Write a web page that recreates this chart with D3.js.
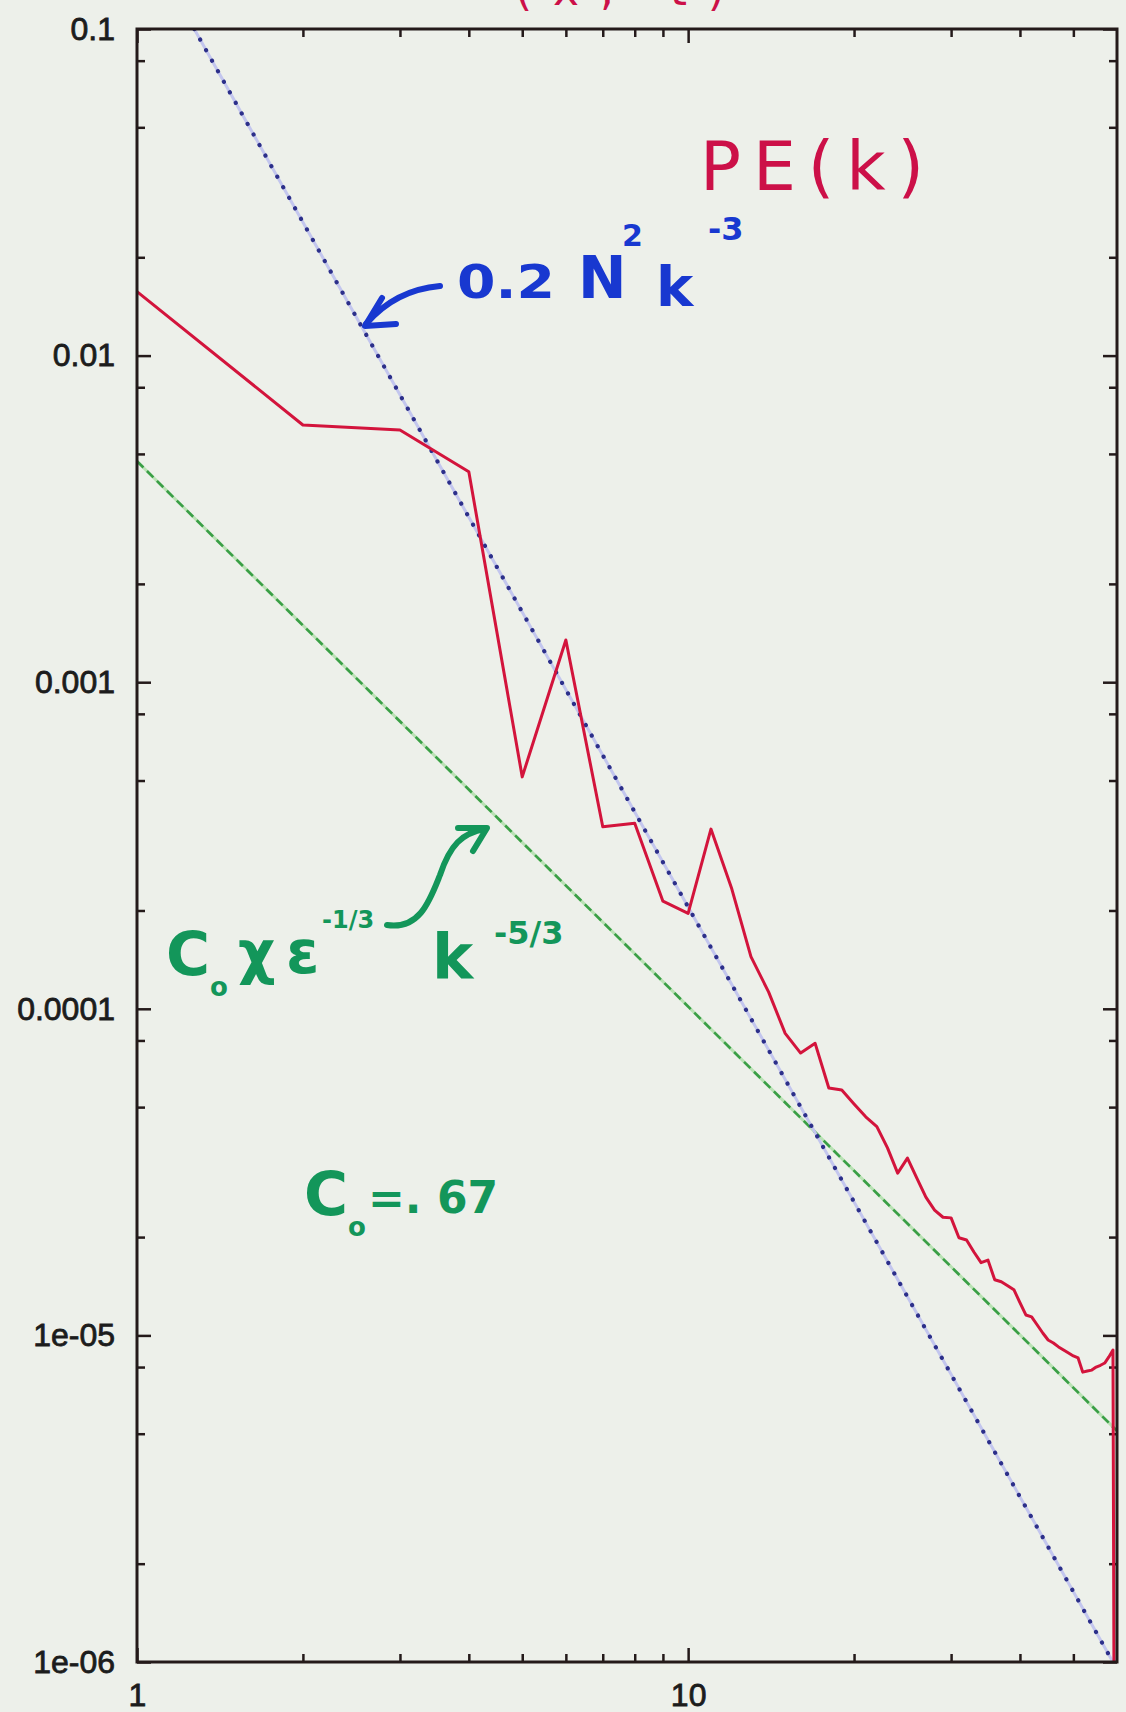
<!DOCTYPE html>
<html>
<head>
<meta charset="utf-8">
<script src="https://cdn.jsdelivr.net/npm/d3@7/dist/d3.min.js"></script>
<style>
  html, body { margin: 0; padding: 0; background: #edf0ea; }
  svg { display: block; }
</style>
</head>
<body>
<svg id="chart" width="1126" height="1712"></svg>
<script>
// wavenumber k and the PE(k) spectrum
const kValues = [1, 2, 3, 4, 5, 6, 7, 8, 9, 10,
  11, 12, 13, 14, 15, 16, 17, 18, 19, 20,
  21, 22, 23, 24, 25, 26, 27, 28, 29, 30,
  31, 32, 33, 34, 35, 36, 37, 38, 39, 40,
  41, 42, 43, 44, 45, 46, 47, 48, 49, 50,
  51, 52, 53, 54, 55, 56, 57, 58, 59, 60];
const peValues = [0.0157, 0.00613, 0.00592, 0.00441, 0.000513, 0.001346, 0.000361, 0.00037, 0.0002135, 0.000196,
  0.000355, 0.000233, 0.0001444, 0.0001125, 8.41e-5, 7.32e-5, 7.84e-5, 5.72e-5, 5.64e-5, 5.11e-5,
  4.67e-5, 4.36e-5, 3.75e-5, 3.14e-5, 3.49e-5, 3.03e-5, 2.65e-5, 2.42e-5, 2.30e-5, 2.29e-5,
  1.99e-5, 1.96e-5, 1.80e-5, 1.67e-5, 1.70e-5, 1.48e-5, 1.46e-5, 1.42e-5, 1.38e-5, 1.26e-5,
  1.155e-5, 1.14e-5, 1.076e-5, 1.017e-5, 9.68e-6, 9.48e-6, 9.22e-6, 9.02e-6, 8.83e-6, 8.65e-6,
  8.53e-6, 7.72e-6, 7.78e-6, 7.83e-6, 8.0e-6, 8.1e-6, 8.23e-6, 8.59e-6, 9.02e-6, 1e-9];

// end points of the two reference slopes
const steepK = [1.27, 60];          // 0.2 N^2 k^-3
const steepV = [0.1, 9.5e-7];
const kolK = [1, 60];               // C0 chi eps^-1/3 k^-5/3
const kolV = [0.00475, 5.1e-6];

// ticks
const xMajor = [1, 10];
const xMinor = [2, 3, 4, 5, 6, 7, 8, 9, 20, 30, 40, 50];
const yMajor = [0.1, 0.01, 0.001, 0.0001, 1e-5, 1e-6];
const yLabels = ["0.1", "0.01", "0.001", "0.0001", "1e-05", "1e-06"];
const yMinor = [0.08, 0.05, 0.02, 0.008, 0.005, 0.002, 0.0008, 0.0005, 0.0002,
  8e-5, 5e-5, 2e-5, 8e-6, 5e-6, 2e-6];

const width = 1126, height = 1712;
const margin = { top: 29, right: 9, bottom: 50, left: 137 };

const svg = d3.select("#chart");

const x = d3.scaleLog().domain([1, 60]).range([margin.left, width - margin.right]);
const y = d3.scaleLog().domain([1e-6, 0.1]).range([height - margin.bottom, margin.top]);

const ink = "#241a1a";
const font = "'Liberation Sans', Arial, sans-serif";

svg.append("rect")
  .attr("width", width)
  .attr("height", height)
  .attr("fill", "#edf0ea");

svg.append("clipPath")
  .attr("id", "plot-clip")
  .append("rect")
  .attr("x", x.range()[0])
  .attr("y", y.range()[1])
  .attr("width", x.range()[1] - x.range()[0])
  .attr("height", y.range()[0] - y.range()[1]);

// axes: ticks point inward, mirrored on all four sides
function styleAxis(g) {
  g.select(".domain").remove();
  g.selectAll(".tick line").attr("stroke", ink).attr("stroke-width", 2.5);
  g.selectAll(".tick text")
    .attr("fill", "#1c1c1c")
    .attr("stroke", "#1c1c1c")
    .attr("stroke-width", 0.8)
    .style("font-family", font)
    .style("font-size", "32px");
}

const plotBottom = y.range()[0], plotTop = y.range()[1];
const plotLeft = x.range()[0], plotRight = x.range()[1];

svg.append("g")
  .attr("transform", `translate(0,${plotBottom})`)
  .call(d3.axisBottom(x).tickValues(xMajor).tickSize(-14).tickPadding(21).tickFormat(d3.format("d")))
  .call(styleAxis);
svg.append("g")
  .attr("transform", `translate(0,${plotBottom})`)
  .call(d3.axisBottom(x).tickValues(xMinor).tickSize(-8).tickFormat(""))
  .call(styleAxis);
svg.append("g")
  .attr("transform", `translate(0,${plotTop})`)
  .call(d3.axisTop(x).tickValues(xMajor).tickSize(-14).tickFormat(""))
  .call(styleAxis);
svg.append("g")
  .attr("transform", `translate(0,${plotTop})`)
  .call(d3.axisTop(x).tickValues(xMinor).tickSize(-8).tickFormat(""))
  .call(styleAxis);

svg.append("g")
  .attr("transform", `translate(${plotLeft},0)`)
  .call(d3.axisLeft(y).tickValues(yMajor).tickSize(-14).tickPadding(22)
    .tickFormat((d, i) => yLabels[i]))
  .call(styleAxis);
svg.append("g")
  .attr("transform", `translate(${plotLeft},0)`)
  .call(d3.axisLeft(y).tickValues(yMinor).tickSize(-8).tickFormat(""))
  .call(styleAxis);
svg.append("g")
  .attr("transform", `translate(${plotRight},0)`)
  .call(d3.axisRight(y).tickValues(yMajor).tickSize(-14).tickFormat(""))
  .call(styleAxis);
svg.append("g")
  .attr("transform", `translate(${plotRight},0)`)
  .call(d3.axisRight(y).tickValues(yMinor).tickSize(-8).tickFormat(""))
  .call(styleAxis);

const line = d3.line()
  .x(d => x(d[0]))
  .y(d => y(d[1]));

const plot = svg.append("g").attr("clip-path", "url(#plot-clip)");

// k^-5/3 : green dashed
const kolData = d3.zip(kolK, kolV);
plot.append("path")
  .datum(kolData)
  .attr("fill", "none")
  .attr("stroke", "#b9e2b4")
  .attr("stroke-width", 3)
  .attr("d", line);
plot.append("path")
  .datum(kolData)
  .attr("fill", "none")
  .attr("stroke", "#3a9e46")
  .attr("stroke-width", 2.6)
  .attr("stroke-dasharray", "9,5")
  .attr("d", line);

// k^-3 : blue dotted
const steepData = d3.zip(steepK, steepV);
plot.append("path")
  .datum(steepData)
  .attr("fill", "none")
  .attr("stroke", "#c3c6ee")
  .attr("stroke-width", 3)
  .attr("d", line);
plot.append("path")
  .datum(steepData)
  .attr("fill", "none")
  .attr("stroke", "#2c2f8a")
  .attr("stroke-width", 4.2)
  .attr("stroke-linecap", "round")
  .attr("stroke-dasharray", "0.1,12")
  .attr("d", line);

// PE(k) spectrum
plot.append("path")
  .datum(d3.zip(kValues, peValues))
  .attr("fill", "none")
  .attr("stroke", "#d3143c")
  .attr("stroke-width", 3)
  .attr("stroke-linejoin", "round")
  .attr("d", line);

// frame
svg.append("rect")
  .attr("x", plotLeft)
  .attr("y", plotTop)
  .attr("width", plotRight - plotLeft)
  .attr("height", plotBottom - plotTop)
  .attr("fill", "none")
  .attr("stroke", ink)
  .attr("stroke-width", 3);

// handwritten notes
const hand = "'DejaVu Sans', 'Noto Sans', sans-serif";
const red = "#cc1048", blue = "#1838d0", green = "#13965a";

// cut-off note at the very top of the page
svg.append("text")
  .attr("x", 515).attr("y", 5)
  .attr("textLength", 210).attr("lengthAdjust", "spacing")
  .attr("fill", red)
  .style("font-family", hand).style("font-size", "44px")
  .text("(x, t)");

svg.append("text")
  .attr("x", 700).attr("y", 190)
  .attr("textLength", 224).attr("lengthAdjust", "spacing")
  .attr("fill", red)
  .style("font-family", hand).style("font-size", "68px")
  .text("PE(k)");

const blueNote = svg.append("text")
  .attr("fill", blue)
  .style("font-family", hand).style("font-weight", "bold");
blueNote.append("tspan").attr("x", 457).attr("y", 298)
  .attr("textLength", 98).attr("lengthAdjust", "spacingAndGlyphs")
  .style("font-size", "46px").text("0.2");
blueNote.append("tspan").attr("x", 578).attr("y", 298).style("font-size", "58px").text("N");
blueNote.append("tspan").attr("x", 622).attr("y", 246).style("font-size", "30px").text("2");
blueNote.append("tspan").attr("x", 656).attr("y", 306).style("font-size", "56px").text("k");
blueNote.append("tspan").attr("x", 708).attr("y", 240).style("font-size", "32px").text("-3");

// blue arrow to the k^-3 line
svg.append("path")
  .attr("d", "M440,286 Q395,290 366,324")
  .attr("fill", "none").attr("stroke", blue).attr("stroke-width", 6).attr("stroke-linecap", "round");
svg.append("path")
  .attr("d", "M382,298 L365,326 L396,324")
  .attr("fill", "none").attr("stroke", blue).attr("stroke-width", 6)
  .attr("stroke-linecap", "round").attr("stroke-linejoin", "round");

const greenNote = svg.append("text")
  .attr("fill", green)
  .style("font-family", hand).style("font-weight", "bold");
greenNote.append("tspan").attr("x", 166).attr("y", 975).style("font-size", "60px").text("C");
greenNote.append("tspan").attr("x", 210).attr("y", 996).style("font-size", "26px").text("o");
greenNote.append("tspan").attr("x", 238).attr("y", 973).style("font-size", "58px").text("χ");
greenNote.append("tspan").attr("x", 286).attr("y", 973).style("font-size", "60px").text("ε");
greenNote.append("tspan").attr("x", 322).attr("y", 928).style("font-size", "24px").text("-1/3");
greenNote.append("tspan").attr("x", 432).attr("y", 978).style("font-size", "62px").text("k");
greenNote.append("tspan").attr("x", 494).attr("y", 944).style("font-size", "32px").text("-5/3");

// green arrow to the k^-5/3 line
svg.append("path")
  .attr("d", "M387,925 C420,930 430,900 440,875 C450,845 462,833 485,829")
  .attr("fill", "none").attr("stroke", green).attr("stroke-width", 6).attr("stroke-linecap", "round");
svg.append("path")
  .attr("d", "M458,828 L487,828 L473,851")
  .attr("fill", "none").attr("stroke", green).attr("stroke-width", 6)
  .attr("stroke-linecap", "round").attr("stroke-linejoin", "round");

const c0Note = svg.append("text")
  .attr("fill", green)
  .style("font-family", hand).style("font-weight", "bold");
c0Note.append("tspan").attr("x", 304).attr("y", 1215).style("font-size", "60px").text("C");
c0Note.append("tspan").attr("x", 348).attr("y", 1236).style("font-size", "26px").text("o");
c0Note.append("tspan").attr("x", 368).attr("y", 1213).style("font-size", "44px").text("=. 67");
</script>
</body>
</html>
